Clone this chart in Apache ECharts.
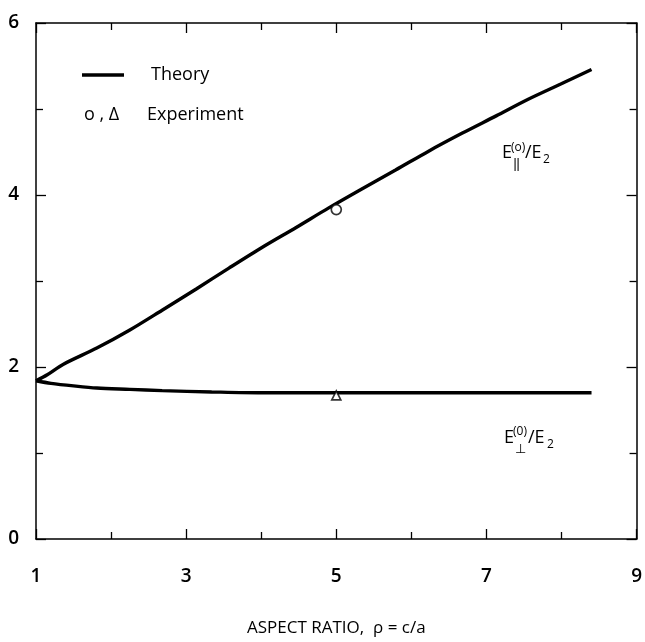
<!DOCTYPE html>
<html>
<head>
<meta charset="utf-8">
<script src="https://cdn.jsdelivr.net/npm/echarts@6/dist/echarts.min.js"></script>
<style>
  html, body { margin: 0; padding: 0; background: #fff; }
  #chart { width: 645px; height: 642px; }
</style>
</head>
<body>
<div id="chart"></div>
<script>
// Theory: field ratio parallel to the axis vs aspect ratio
const aspectParallel = [1.0, 1.15, 1.36, 1.81, 2.25, 2.68, 3.14, 3.57, 4.01, 4.46, 4.90, 5.34, 5.79, 6.23, 6.68, 7.13, 7.55, 7.99, 8.40];
const fieldParallel  = [1.84, 1.91, 2.03, 2.22, 2.43, 2.66, 2.91, 3.15, 3.39, 3.62, 3.85, 4.07, 4.29, 4.51, 4.72, 4.92, 5.11, 5.29, 5.46];

// Theory: field ratio perpendicular to the axis vs aspect ratio
const aspectPerp = [1.0, 1.2, 1.5, 1.81, 2.25, 2.68, 3.34, 4.0, 5.0, 6.0, 7.0, 8.0, 8.40];
const fieldPerp  = [1.84, 1.81, 1.78, 1.755, 1.74, 1.725, 1.71, 1.70, 1.70, 1.70, 1.70, 1.70, 1.70];

// Experiment
const expAspect   = [5.0];
const expParallel = [3.83];
const expPerp     = [1.67];

// Axis ranges and labelled tick spacing
const xRange = [1, 9];
const xStep = 2;
const yRange = [0, 6];
const yStep = 2;

const xTitle = 'ASPECT RATIO,  \u03c1 = c/a';

const FONT = '"Open Sans", "Noto Sans", sans-serif';
const INK = '#000';

const pairs = (xs, ys) => xs.map((x, i) => [x, ys[i]]);

const chart = echarts.init(document.getElementById('chart'), null, { renderer: 'canvas' });

const axisCommon = {
  type: 'value',
  axisLine: { show: true, onZero: false, lineStyle: { color: INK, width: 1.5 } },
  axisTick: { show: true, inside: true, length: 10, lineStyle: { color: INK, width: 1.3 } },
  minorTick: { show: true, splitNumber: 2, length: 7, lineStyle: { color: INK, width: 1.3 } },
  splitLine: { show: false },
  minorSplitLine: { show: false }
};

const tickFont = { color: INK, fontSize: 19, fontWeight: 600, fontFamily: FONT };

const option = {
  backgroundColor: '#fff',
  animation: false,
  grid: { left: 36, right: 6, top: 23, bottom: 97, containLabel: false },
  xAxis: [
    Object.assign({}, axisCommon, {
      position: 'bottom',
      min: xRange[0], max: xRange[1], interval: xStep,
      axisLabel: Object.assign({ show: true, margin: 28 }, tickFont),
      name: xTitle,
      nameLocation: 'middle',
      nameGap: 81,
      nameTextStyle: { color: INK, fontSize: 17, fontFamily: FONT }
    }),
    Object.assign({}, axisCommon, {
      position: 'top',
      min: xRange[0], max: xRange[1], interval: xStep,
      axisLabel: { show: false }
    })
  ],
  yAxis: [
    Object.assign({}, axisCommon, {
      position: 'left',
      min: yRange[0], max: yRange[1], interval: yStep,
      axisLabel: Object.assign({ show: true, margin: 17 }, tickFont)
    }),
    Object.assign({}, axisCommon, {
      position: 'right',
      min: yRange[0], max: yRange[1], interval: yStep,
      axisLabel: { show: false }
    })
  ],
  series: [
    {
      name: 'Theory parallel',
      type: 'line',
      data: pairs(aspectParallel, fieldParallel),
      showSymbol: false,
      symbol: 'none',
      smooth: 0.3,
      lineStyle: { color: INK, width: 3.4 },
      z: 3
    },
    {
      name: 'Theory perpendicular',
      type: 'line',
      data: pairs(aspectPerp, fieldPerp),
      showSymbol: false,
      symbol: 'none',
      smooth: 0.3,
      lineStyle: { color: INK, width: 3.4 },
      z: 3
    },
    {
      name: 'Experiment parallel',
      type: 'scatter',
      data: pairs(expAspect, expParallel),
      symbol: 'circle',
      symbolSize: 10,
      itemStyle: { color: '#fff', borderColor: INK, borderWidth: 1.7 },
      z: 4
    },
    {
      name: 'Experiment perpendicular',
      type: 'scatter',
      data: pairs(expAspect, expPerp),
      symbol: 'triangle',
      symbolSize: 9,
      itemStyle: { color: '#fff', borderColor: INK, borderWidth: 1.7 },
      z: 4
    }
  ],
  graphic: [
    // legend
    { type: 'line', shape: { x1: 82, y1: 75, x2: 124, y2: 75 }, style: { stroke: INK, lineWidth: 3.6 } },
    { type: 'text', x: 151, y: 75, style: { text: 'Theory', font: '500 18px ' + FONT, fill: INK, textVerticalAlign: 'middle' } },
    { type: 'text', x: 84, y: 115, style: { text: 'o , \u0394', font: '500 18px ' + FONT, fill: INK, textVerticalAlign: 'middle' } },
    { type: 'text', x: 147, y: 115, style: { text: 'Experiment', font: '500 18px ' + FONT, fill: INK, textVerticalAlign: 'middle' } },

    // curve label: parallel component
    { type: 'text', x: 502, y: 162, style: { text: 'E', font: '500 18px ' + FONT, fill: INK, textVerticalAlign: 'bottom' } },
    { type: 'text', x: 511, y: 154, style: { text: '(o)', font: '500 12px ' + FONT, fill: INK, textVerticalAlign: 'bottom' } },
    { type: 'text', x: 513, y: 171, style: { text: '\u2016', font: '500 13px ' + FONT, fill: INK, textVerticalAlign: 'bottom' } },
    { type: 'text', x: 525, y: 162, style: { text: '/E', font: '500 18px ' + FONT, fill: INK, textVerticalAlign: 'bottom' } },
    { type: 'text', x: 543, y: 166, style: { text: '2', font: '500 12px ' + FONT, fill: INK, textVerticalAlign: 'bottom' } },

    // curve label: perpendicular component
    { type: 'text', x: 504, y: 447, style: { text: 'E', font: '500 18px ' + FONT, fill: INK, textVerticalAlign: 'bottom' } },
    { type: 'text', x: 513, y: 438, style: { text: '(0)', font: '500 12px ' + FONT, fill: INK, textVerticalAlign: 'bottom' } },
    { type: 'text', x: 515, y: 456, style: { text: '\u22a5', font: '500 13px ' + FONT, fill: INK, textVerticalAlign: 'bottom' } },
    { type: 'text', x: 528, y: 447, style: { text: '/E', font: '500 18px ' + FONT, fill: INK, textVerticalAlign: 'bottom' } },
    { type: 'text', x: 547, y: 451, style: { text: '2', font: '500 12px ' + FONT, fill: INK, textVerticalAlign: 'bottom' } }
  ]
};

chart.setOption(option);
</script>
</body>
</html>
